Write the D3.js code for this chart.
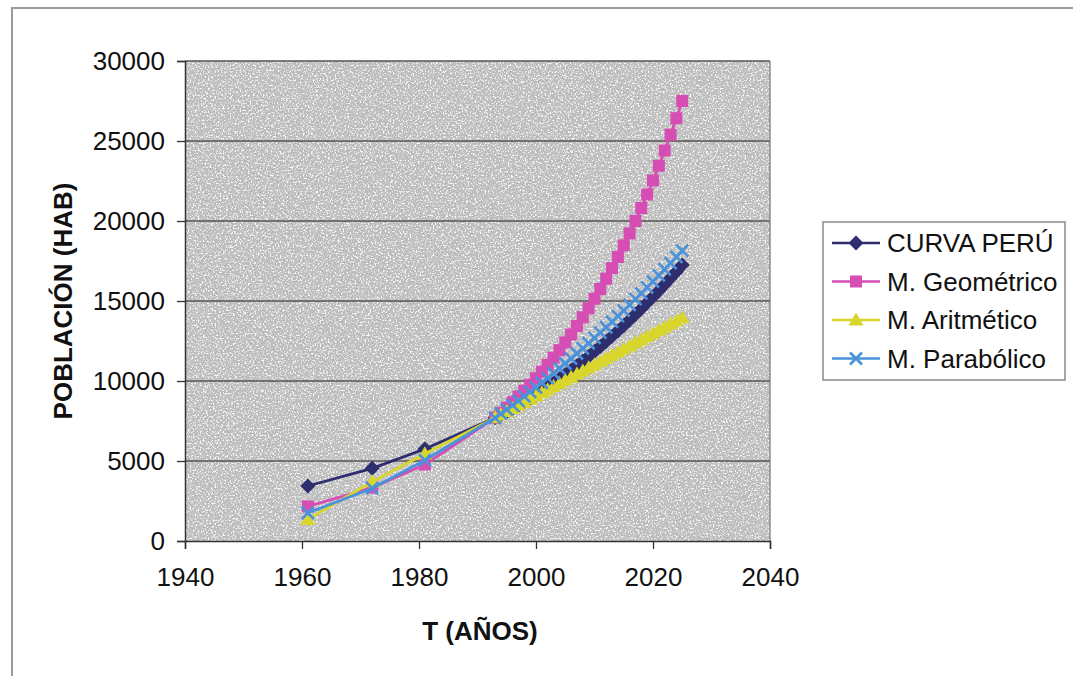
<!DOCTYPE html>
<html><head><meta charset="utf-8">
<script src="https://cdn.jsdelivr.net/npm/d3@7"></script>
<style>html,body{margin:0;padding:0;background:#fff;}svg{display:block;font-family:"Liberation Sans",Arial,sans-serif;}</style>
</head><body>
<svg id="chart" width="1073" height="676"></svg>
<script>
const years = [1961,1972,1981,1993,1994,1995,1996,1997,1998,1999,2000,2001,2002,2003,2004,2005,2006,2007,2008,2009,2010,2011,2012,2013,2014,2015,2016,2017,2018,2019,2020,2021,2022,2023,2024,2025];
const curvaPeru = [3437,4544,5750,7700,7885,8078,8277,8484,8699,8920,9149,9386,9629,9880,10138,10404,10676,10956,11244,11538,11840,12150,12466,12790,13121,13460,13805,14158,14519,14886,15261,15644,16033,16430,16834,17246];
const geometrico = [2160,3340,4780,7700,8012,8338,8676,9028,9394,9776,10172,10585,11015,11462,11927,12411,12914,13438,13984,14551,15142,15756,16395,17061,17753,18473,19223,20003,20815,21659,22538,23453,24405,25395,26426,27498];
const aritmetico = [1350,3700,5450,7700,7895,8091,8286,8481,8677,8872,9067,9262,9458,9653,9848,10044,10239,10434,10630,10825,11020,11215,11411,11606,11801,11997,12192,12387,12583,12778,12973,13168,13364,13559,13754,13950];
const parabolico = [1750,3300,5050,7700,7958,8221,8489,8760,9036,9317,9601,9891,10184,10482,10785,11091,11403,11718,12038,12362,12691,13024,13362,13704,14050,14401,14756,15116,15479,15848,16220,16597,16979,17365,17755,18150];
const seriesNames = ["CURVA PERÚ","M. Geométrico","M. Aritmético","M. Parabólico"];
const xTicks = [1940,1960,1980,2000,2020,2040];
const yTicks = [0,5000,10000,15000,20000,25000,30000];
const xTitle = "T (AÑOS)";
const yTitle = "POBLACIÓN (HAB)";

const svg = d3.select("#chart");
const L = 185, R = 770, T = 61, B = 541;
const x = d3.scaleLinear().domain([1940, 2040]).range([L, R]);
const y = d3.scaleLinear().domain([0, 30000]).range([B, T]);

// outer chart border (extends beyond visible right/bottom)
svg.append("rect").attr("x", 12).attr("y", 8).attr("width", 1100).attr("height", 720)
  .attr("fill", "#fff").attr("stroke", "#9a9a9a").attr("stroke-width", 2);

// noise texture for plot area
const defs = svg.append("defs");
const f = defs.append("filter").attr("id", "noise").attr("x", 0).attr("y", 0).attr("width", 1).attr("height", 1)
  .attr("color-interpolation-filters", "sRGB");
f.append("feTurbulence").attr("type", "fractalNoise").attr("baseFrequency", 0.6).attr("numOctaves", 2).attr("seed", 7).attr("result", "t");
const ct = f.append("feComponentTransfer").attr("in", "t");
const tv = "0.66 0.68 0.70 0.72 0.74 0.75 0.77 0.88 0.97 1 1 1";
ct.append("feFuncR").attr("type", "discrete").attr("tableValues", tv);
ct.append("feFuncG").attr("type", "discrete").attr("tableValues", tv);
ct.append("feFuncB").attr("type", "discrete").attr("tableValues", tv);
ct.append("feFuncA").attr("type", "table").attr("tableValues", "1 1");
f.append("feColorMatrix").attr("type", "matrix")
  .attr("values", "1 0 0 0 0  1 0 0 0 0  1 0 0 0 0  0 0 0 0 1");

svg.append("rect").attr("x", L).attr("y", T).attr("width", R - L).attr("height", B - T)
  .attr("fill", "#c0c0c0").attr("filter", "url(#noise)");

// gridlines
svg.append("g").selectAll("line").data(yTicks.filter(d => d > 0)).join("line")
  .attr("x1", L).attr("x2", R).attr("y1", d => y(d)).attr("y2", d => y(d))
  .attr("stroke", "#555").attr("stroke-width", 1.3);
// right border of plot
svg.append("line").attr("x1", R).attr("x2", R).attr("y1", T).attr("y2", B).attr("stroke", "#808080").attr("stroke-width", 1.3);

// axes
const xAxis = svg.append("g").attr("transform", `translate(0,${B})`)
  .call(d3.axisBottom(x).tickValues(xTicks).tickFormat(d3.format("d")).tickSize(8).tickPadding(19));
const yAxis = svg.append("g").attr("transform", `translate(${L},0)`)
  .call(d3.axisLeft(y).tickValues(yTicks).tickFormat(d3.format("d")).tickSize(8).tickPadding(12));
[xAxis, yAxis].forEach(g => {
  g.select(".domain").attr("stroke", "#333").attr("stroke-width", 1.5);
  g.selectAll(".tick line").attr("stroke", "#333").attr("stroke-width", 1.3);
  g.selectAll(".tick text").attr("fill", "#111").attr("font-size", 26).attr("font-family", "Liberation Sans, Arial, sans-serif");
});

// axis titles
svg.append("text").attr("x", 480).attr("y", 640).attr("text-anchor", "middle")
  .attr("font-size", 26).attr("font-weight", "bold").attr("fill", "#111").text(xTitle);
svg.append("text").attr("transform", `translate(72,${(T + B) / 2}) rotate(-90)`).attr("text-anchor", "middle")
  .attr("font-size", 26).attr("font-weight", "bold").attr("fill", "#111").text(yTitle);

const colors = ["#2e2e6e", "#d64db4", "#d8d62a", "#4a92da"];
const shapes = ["diamond", "square", "triangle", "x"];
const data = [curvaPeru, geometrico, aritmetico, parabolico];

function marker(g, shape, color, cx, cy) {
  if (shape === "diamond") {
    g.append("path").attr("d", `M${cx},${cy-7.5}L${cx+7.5},${cy}L${cx},${cy+7.5}L${cx-7.5},${cy}Z`).attr("fill", color);
  } else if (shape === "square") {
    g.append("rect").attr("x", cx - 6).attr("y", cy - 6).attr("width", 12).attr("height", 12).attr("fill", color);
  } else if (shape === "triangle") {
    g.append("path").attr("d", `M${cx},${cy-7.5}L${cx+7.5},${cy+5.5}L${cx-7.5},${cy+5.5}Z`).attr("fill", color);
  } else {
    g.append("path").attr("d", `M${cx-6},${cy-6}L${cx+6},${cy+6}M${cx-6},${cy+6}L${cx+6},${cy-6}`)
      .attr("stroke", color).attr("stroke-width", 2.6).attr("fill", "none");
  }
}

const line = d3.line().x(d => x(d[0])).y(d => y(d[1]));
data.forEach((vals, i) => {
  const pts = years.map((yr, j) => [yr, vals[j]]);
  const g = svg.append("g");
  g.append("path").datum(pts).attr("d", line).attr("fill", "none")
    .attr("stroke", colors[i]).attr("stroke-width", 2.8);
  pts.forEach(p => marker(g, shapes[i], colors[i], x(p[0]), y(p[1])));
});

// legend
const lg = svg.append("g");
lg.append("rect").attr("x", 823).attr("y", 222).attr("width", 242).attr("height", 158)
  .attr("fill", "#fff").attr("stroke", "#8a8a8a").attr("stroke-width", 1.5);
seriesNames.forEach((name, i) => {
  const cy = 243 + i * 38.5;
  lg.append("line").attr("x1", 832).attr("x2", 880).attr("y1", cy).attr("y2", cy)
    .attr("stroke", colors[i]).attr("stroke-width", 2.6);
  marker(lg, shapes[i], colors[i], 856, cy);
  lg.append("text").attr("x", 887).attr("y", cy + 9).attr("font-size", 26).attr("fill", "#111").text(name);
});
</script>
</body></html>
